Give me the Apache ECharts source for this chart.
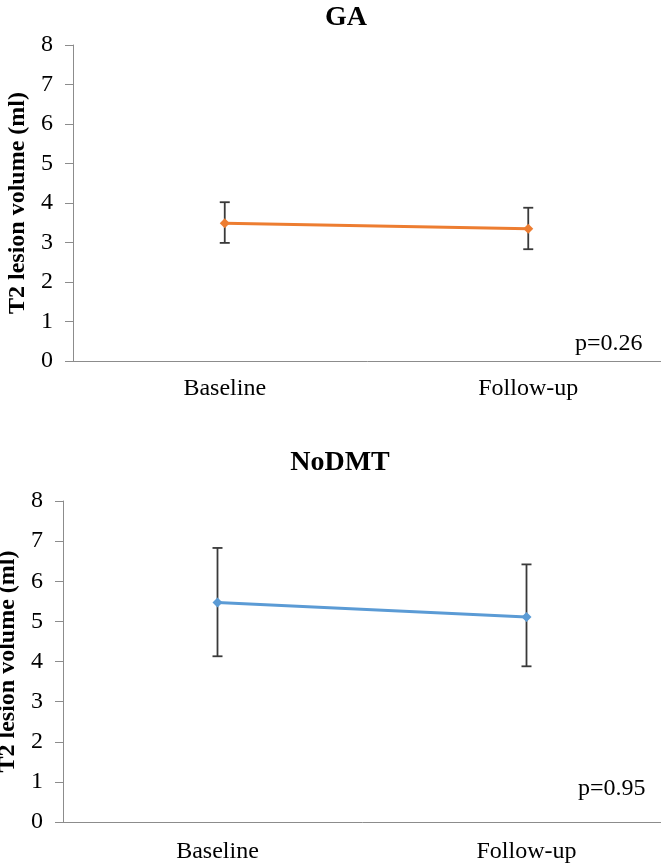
<!DOCTYPE html>
<html><head><meta charset="utf-8">
<script src="https://cdn.jsdelivr.net/npm/echarts@6/dist/echarts.min.js"></script>
<style>html,body{margin:0;padding:0;background:#fff}#c{width:661px;height:868px}</style>
</head><body><div id="c"></div>
<script>
const categories = ['Baseline', 'Follow-up'];
const yTicks = [0, 1, 2, 3, 4, 5, 6, 7, 8];
const gaMean = [3.49, 3.35];
const gaLow = [2.99, 2.83];
const gaHigh = [4.02, 3.88];
const noMean = [5.47, 5.11];
const noLow = [4.13, 3.88];
const noHigh = [6.83, 6.42];
const titles = ['GA', 'NoDMT'];
const pValues = ['p=0.26', 'p=0.95'];
const yName = 'T2 lesion volume (ml)';

const FONT = '"Liberation Serif","Times New Roman",serif';
const chart = echarts.init(document.getElementById('c'));

function errItem() {
  return function (params, api) {
    const x = api.value(0);
    const p1 = api.coord([x, api.value(1)]);
    const p2 = api.coord([x, api.value(2)]);
    const w = 5;
    const st = {stroke: '#3a3a3a', lineWidth: 1.8};
    return {type: 'group', children: [
      {type: 'line', shape: {x1: p1[0], y1: p1[1], x2: p2[0], y2: p2[1]}, style: st},
      {type: 'line', shape: {x1: p1[0]-w, y1: p1[1], x2: p1[0]+w, y2: p1[1]}, style: st},
      {type: 'line', shape: {x1: p2[0]-w, y1: p2[1], x2: p2[0]+w, y2: p2[1]}, style: st}
    ]};
  };
}

function xAx(i) {
  return {type: 'category', gridIndex: i, data: categories, boundaryGap: true,
    axisLine: {lineStyle: {color: '#8c8c8c', width: 1}}, axisTick: {show: false},
    axisLabel: {color: '#000', fontFamily: FONT, fontSize: 24, margin: i === 0 ? 16 : 18}};
}
function yAx(i) {
  return {type: 'value', gridIndex: i, min: yTicks[0], max: yTicks[yTicks.length-1], interval: 1,
    name: yName, nameLocation: 'middle', nameRotate: 90, nameGap: 35,
    nameTextStyle: {color: '#000', fontFamily: FONT, fontSize: 24, fontWeight: 'bold'},
    axisLine: {show: true, lineStyle: {color: '#8c8c8c', width: 1}},
    axisTick: {show: true, length: 8, lineStyle: {color: '#8c8c8c'}},
    splitLine: {show: false},
    axisLabel: {color: '#000', fontFamily: FONT, fontSize: 24, margin: 20}};
}
function errData(low, high) { return categories.map((c, k) => [k, low[k], high[k]]); }

chart.setOption({
  animation: false,
  backgroundColor: '#fff',
  title: [
    {text: titles[0], left: 341, top: -1, textAlign: 'center', textStyle: {fontFamily: FONT, fontSize: 28, fontWeight: 'bold', color: '#000'}},
    {text: titles[1], left: 335, top: 444, textAlign: 'center', textStyle: {fontFamily: FONT, fontSize: 28, fontWeight: 'bold', color: '#000'}}
  ],
  grid: [
    {left: 73, top: 45, height: 316, width: 607, outerBoundsMode: 'none', containLabel: false},
    {left: 63, top: 501, height: 321, width: 618, outerBoundsMode: 'none', containLabel: false}
  ],
  xAxis: [xAx(0), xAx(1)],
  yAxis: [yAx(0), yAx(1)],
  graphic: [
    {type: 'text', left: 575, top: 332, style: {text: pValues[0], font: '24px ' + FONT, fill: '#000'}},
    {type: 'text', left: 578, top: 777, style: {text: pValues[1], font: '24px ' + FONT, fill: '#000'}}
  ],
  series: [
    {type: 'custom', xAxisIndex: 0, yAxisIndex: 0, renderItem: errItem(), data: errData(gaLow, gaHigh), z: 1},
    {type: 'line', xAxisIndex: 0, yAxisIndex: 0, data: gaMean, symbol: 'diamond', symbolSize: 10,
      lineStyle: {color: '#ED7D31', width: 3}, itemStyle: {color: '#ED7D31'}, z: 3},
    {type: 'custom', xAxisIndex: 1, yAxisIndex: 1, renderItem: errItem(), data: errData(noLow, noHigh), z: 1},
    {type: 'line', xAxisIndex: 1, yAxisIndex: 1, data: noMean, symbol: 'diamond', symbolSize: 10,
      lineStyle: {color: '#5B9BD5', width: 3}, itemStyle: {color: '#5B9BD5'}, z: 3}
  ]
});
</script></body></html>
